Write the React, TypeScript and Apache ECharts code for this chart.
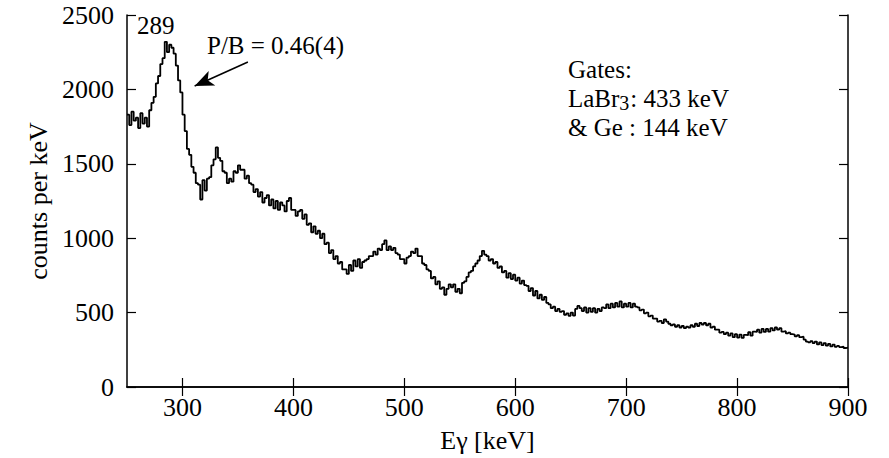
import React, { useEffect, useRef } from "react";
import * as echarts from "echarts";

// Spectrum: 2 keV bins starting at 250 keV
const BIN_START = 250;
const BIN_WIDTH = 2;
const counts: number[] = [
  1830, 1760, 1850, 1790, 1810, 1740, 1840, 1770, 1810, 1750, // 250
  1860, 1910, 1950, 2040, 2090, 2170, 2210, 2320, 2250, 2300, // 270
  2280, 2240, 2160, 2060, 1980, 1830, 1720, 1600, 1560, 1480, // 290
  1440, 1370, 1360, 1260, 1390, 1320, 1400, 1410, 1490, 1530, // 310
  1610, 1540, 1520, 1450, 1440, 1370, 1400, 1380, 1450, 1440, // 330
  1490, 1460, 1460, 1400, 1420, 1370, 1360, 1310, 1330, 1280, // 350
  1310, 1240, 1270, 1290, 1220, 1260, 1200, 1250, 1190, 1240, // 370
  1220, 1180, 1250, 1270, 1190, 1190, 1150, 1180, 1190, 1130, // 390
  1160, 1090, 1100, 1040, 1080, 1030, 1050, 1000, 1030, 960, // 410
  970, 900, 920, 860, 880, 830, 840, 790, 790, 760, // 430
  820, 780, 850, 810, 860, 800, 840, 850, 860, 880, // 450
  880, 910, 890, 930, 920, 960, 985, 920, 945, 920, // 470
  935, 900, 890, 860, 860, 830, 870, 880, 910, 900, // 490
  930, 880, 880, 830, 820, 790, 780, 730, 740, 690, // 510
  710, 660, 670, 620, 660, 690, 670, 690, 640, 660, // 530
  630, 700, 710, 740, 770, 780, 810, 830, 850, 880, // 550
  915, 890, 880, 850, 860, 830, 840, 800, 810, 770, // 570
  780, 735, 765, 725, 755, 715, 735, 695, 715, 685, // 590
  680, 645, 665, 615, 645, 595, 620, 585, 605, 565, // 610
  555, 530, 540, 510, 525, 505, 510, 485, 495, 478, // 630
  500, 480, 525, 545, 530, 510, 535, 500, 530, 505, // 650
  530, 500, 525, 510, 535, 530, 555, 530, 560, 535, // 670
  565, 540, 575, 535, 560, 540, 565, 535, 560, 540, // 690
  535, 515, 520, 495, 500, 475, 480, 460, 460, 440, // 710
  445, 430, 455, 440, 425, 415, 420, 405, 415, 400, // 730
  410, 395, 405, 400, 415, 405, 425, 410, 430, 420, // 750
  430, 415, 425, 400, 405, 385, 385, 365, 370, 355, // 770
  365, 345, 360, 335, 355, 332, 352, 330, 350, 348, // 790
  368, 345, 372, 370, 385, 365, 390, 370, 390, 372, // 810
  395, 380, 400, 385, 395, 372, 375, 360, 365, 355, // 830
  352, 340, 348, 335, 338, 318, 305, 300, 308, 295, // 850
  305, 286, 300, 282, 295, 278, 290, 273, 285, 270, // 870
  276, 268, 272, 262, 265, // 890
];

const xTicks = [300, 400, 500, 600, 700, 800, 900];
const X_MIN = 250;
const X_MAX = 900;
const Y_MIN = 0;
const Y_MAX = 2500;
const Y_STEP = 500;

const peakLabel = "289";
const pbLabel = "P/B = 0.46(4)";
const arrowFrom = [359, 2184];
const arrowTo = [311, 2023];

const FONT = "'Liberation Serif', 'Times New Roman', serif";

export default function App() {
  const ref = useRef<HTMLDivElement>(null);
  useEffect(() => {
    if (!ref.current) return;
    const chart = echarts.init(ref.current, undefined, { renderer: "svg" });
    const data: number[][] = counts.map((c, i) => [BIN_START + i * BIN_WIDTH, c]);
    data.push([X_MAX, counts[counts.length - 1]]);

    const axisLine = { show: true, lineStyle: { color: "#000", width: 1.5 } };
    const tickStyle = { color: "#000", width: 1.2 };

    chart.setOption({
      animation: false,
      backgroundColor: "#fff",
      grid: { left: 127, right: 41, top: 15, bottom: 70, containLabel: false },
      xAxis: [
        {
          type: "value",
          min: X_MIN,
          max: X_MAX,
          position: "bottom",
          axisLine,
          axisTick: { show: true, inside: true, length: 9, lineStyle: tickStyle, customValues: xTicks },
          axisLabel: {
            show: true,
            customValues: xTicks,
            color: "#000",
            fontFamily: FONT,
            fontSize: 26,
            margin: 7,
            formatter: (v: number) => String(v),
          },
          splitLine: { show: false },
          name: "Eγ [keV]",
          nameLocation: "middle",
          nameGap: 40,
          nameTextStyle: { color: "#000", fontFamily: FONT, fontSize: 26 },
        },
        {
          type: "value",
          min: X_MIN,
          max: X_MAX,
          position: "top",
          axisLine,
          axisTick: { show: true, inside: true, length: 9, lineStyle: tickStyle, customValues: xTicks },
          axisLabel: { show: false },
          splitLine: { show: false },
        },
      ],
      yAxis: [
        {
          type: "value",
          min: Y_MIN,
          max: Y_MAX,
          interval: Y_STEP,
          position: "left",
          axisLine,
          axisTick: { show: true, inside: true, length: 9, lineStyle: tickStyle },
          axisLabel: {
            color: "#000",
            fontFamily: FONT,
            fontSize: 26,
            margin: 13,
            formatter: (v: number) => String(v),
          },
          splitLine: { show: false },
          name: "counts per keV",
          nameLocation: "middle",
          nameGap: 76,
          nameRotate: 90,
          nameTextStyle: { color: "#000", fontFamily: FONT, fontSize: 26 },
        },
        {
          type: "value",
          min: Y_MIN,
          max: Y_MAX,
          interval: Y_STEP,
          position: "right",
          axisLine,
          axisTick: { show: true, inside: true, length: 9, lineStyle: tickStyle },
          axisLabel: { show: false },
          splitLine: { show: false },
        },
      ],
      series: [
        {
          type: "line",
          step: "end",
          data,
          xAxisIndex: 0,
          yAxisIndex: 0,
          showSymbol: false,
          symbol: "none",
          lineStyle: { color: "#000", width: 1.8 },
          markLine: {
            silent: true,
            animation: false,
            symbol: ["none", "arrow"],
            symbolSize: [12, 19],
            lineStyle: { color: "#000", width: 1.5, type: "solid" },
            label: { show: false },
            data: [[{ coord: arrowFrom }, { coord: arrowTo }]],
          },
        },
      ],
      graphic: [
        {
          type: "text",
          left: 137,
          top: 13,
          style: { text: peakLabel, font: `25px ${FONT}`, fill: "#000" },
        },
        {
          type: "text",
          left: 207,
          top: 33,
          style: { text: pbLabel, font: `25px ${FONT}`, fill: "#000" },
        },
        {
          type: "text",
          left: 568,
          top: 55,
          style: {
            text: "Gates:\nLaBr{sub|3}: 433 keV\n& Ge : 144 keV",
            font: `25px ${FONT}`,
            fill: "#000",
            lineHeight: 29,
            rich: {
              sub: { fontSize: 20, fontFamily: FONT, fill: "#000", verticalAlign: "bottom", lineHeight: 20, padding: [12, 1, 0, 0] },
            },
          },
        },
      ],
    });
    return () => chart.dispose();
  }, []);
  return (
    <div
      ref={ref}
      style={{ position: "fixed", left: 0, top: 0, width: 889, height: 458, background: "#fff" }}
    />
  );
}
